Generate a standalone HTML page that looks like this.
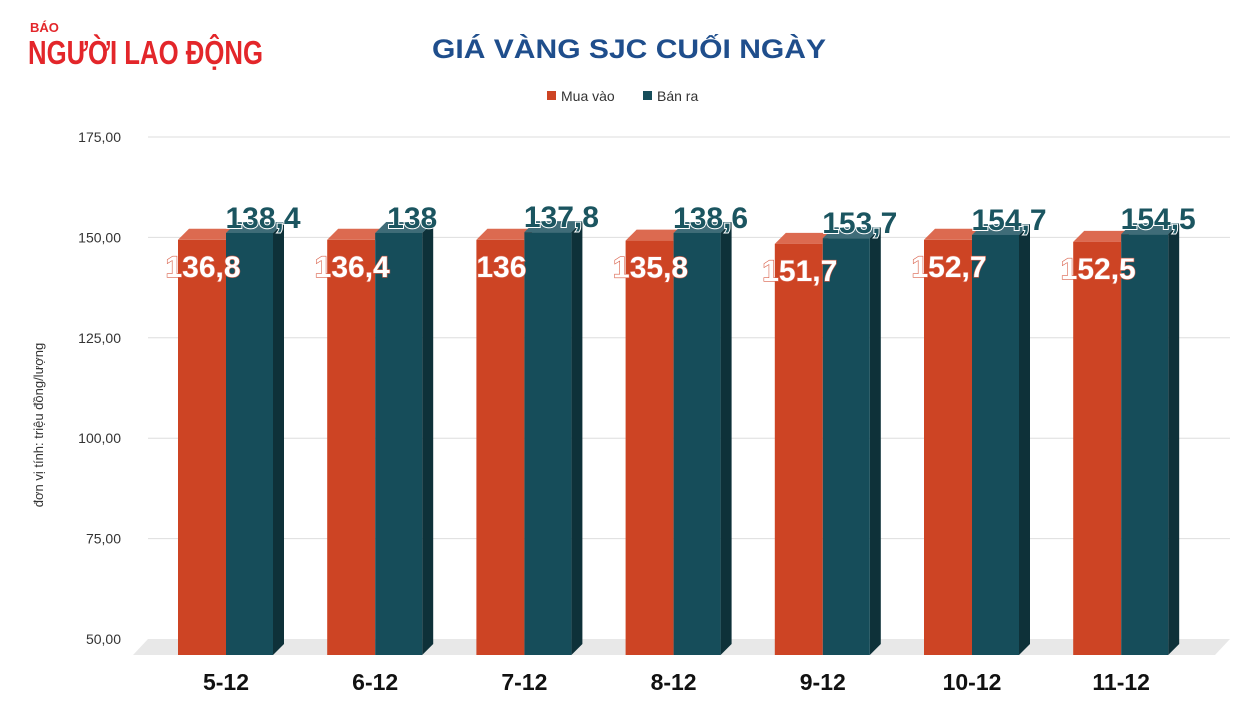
<!DOCTYPE html>
<html><head><meta charset="utf-8"><style>
body{margin:0;background:#fff;}
svg text{font-family:"Liberation Sans",sans-serif;}
</style></head><body>
<svg width="1259" height="709" viewBox="0 0 1259 709" xmlns="http://www.w3.org/2000/svg">
<g>
<text x="30" y="32" font-size="13" font-weight="bold" fill="#e3262a">BÁO</text>
<text x="28" y="64" font-size="33" font-weight="bold" fill="#e3262a" textLength="235" lengthAdjust="spacingAndGlyphs">NGƯỜI LAO ĐỘNG</text>
</g>
<text x="629" y="58" text-anchor="middle" font-size="27" font-weight="bold" fill="#1f4e8c" textLength="394" lengthAdjust="spacingAndGlyphs">GIÁ VÀNG SJC CUỐI NGÀY</text>
<g font-size="14" fill="#333">
<rect x="547" y="91" width="9" height="9" fill="#cd4424"/><text x="561" y="101">Mua vào</text>
<rect x="643" y="91" width="9" height="9" fill="#164d5a"/><text x="657" y="101">Bán ra</text>
</g>
<text transform="translate(43,425) rotate(-90)" text-anchor="middle" font-size="13" fill="#333">đơn vị tính: triệu đồng/lượng</text>
<g id="grid"></g>
<polygon points="148,639 1230,639 1215,655 133,655" fill="#e8e8e8"/>
<g id="bars"></g>
</svg>
<script>
const categories=["5-12","6-12","7-12","8-12","9-12","10-12","11-12"];
const buyHeights=[149.4,149.4,149.4,149.2,148.4,149.4,148.9];
const sellHeights=[151.1,151.1,151.3,151.1,149.8,150.6,150.8];
const buyLabels=["136,8","136,4","136","135,8","151,7","152,7","152,5"];
const sellLabels=["138,4","138","137,8","138,6","153,7","154,7","154,5"];
const ticks=[50,75,100,125,150,175];
const tickLabels=["50,00","75,00","100,00","125,00","150,00","175,00"];
const NS="http://www.w3.org/2000/svg";
const y=v=>639-(v-50)*4.016;
const xc=i=>226+i*149.2;
const base=655;
function mk(t,a,p){const e=document.createElementNS(NS,t);for(const k in a)e.setAttribute(k,a[k]);p.appendChild(e);return e;}
const g=document.getElementById('grid');
ticks.forEach((t,i)=>{
 if(i>0){const l=mk('line',{x1:148,x2:1230,y1:y(t),y2:y(t),stroke:'#dedede'},g);
 
 }
 const tx=mk('text',{x:121,y:y(t)+5,'text-anchor':'end','font-size':14,fill:'#333'},g);
 tx.textContent=tickLabels[i];
 
 
});
const b=document.getElementById('bars');
const d=11;
categories.forEach((c,i)=>{
 const cx=xc(i);
 const grp=mk('g',{},b);
 
 
 const yb=y(buyHeights[i]), ys=y(sellHeights[i]);
 mk('polygon',{points:`${cx-48},${yb} ${cx},${yb} ${cx+d},${yb-d} ${cx-48+d},${yb-d}`,fill:'#dc6a50'},grp);
 const rb=mk('rect',{x:cx-48,y:yb,width:48,height:base-yb,fill:'#cd4424'},grp);
 
 
 mk('polygon',{points:`${cx},${ys} ${cx+47},${ys} ${cx+47+d},${ys-d} ${cx+d},${ys-d}`,fill:'#3f6c78'},grp);
 mk('polygon',{points:`${cx+47},${ys} ${cx+47+d},${ys-d} ${cx+47+d},${base-d} ${cx+47},${base}`,fill:'#0e3139'},grp);
 const rs=mk('rect',{x:cx,y:ys,width:47,height:base-ys,fill:'#164d5a'},grp);
 
 
 const lb=mk('text',{x:cx-23,y:yb+37,'text-anchor':'middle','font-size':30,'font-weight':'bold',fill:'#fff',stroke:'#d9604a','stroke-width':1.2,'paint-order':'stroke'},grp);
 lb.textContent=buyLabels[i];
 
 
 const ls=mk('text',{x:cx+37,y:ys-5,'text-anchor':'middle','font-size':30,'font-weight':'bold',fill:'#1b5560',stroke:'#fff','stroke-width':2,'paint-order':'stroke'},grp);
 ls.textContent=sellLabels[i];
 
 
 const xl=mk('text',{x:cx,y:690,'text-anchor':'middle','font-size':23,'font-weight':'bold',fill:'#111'},grp);
 xl.textContent=c;
 
 
});
</script>
</body></html>
